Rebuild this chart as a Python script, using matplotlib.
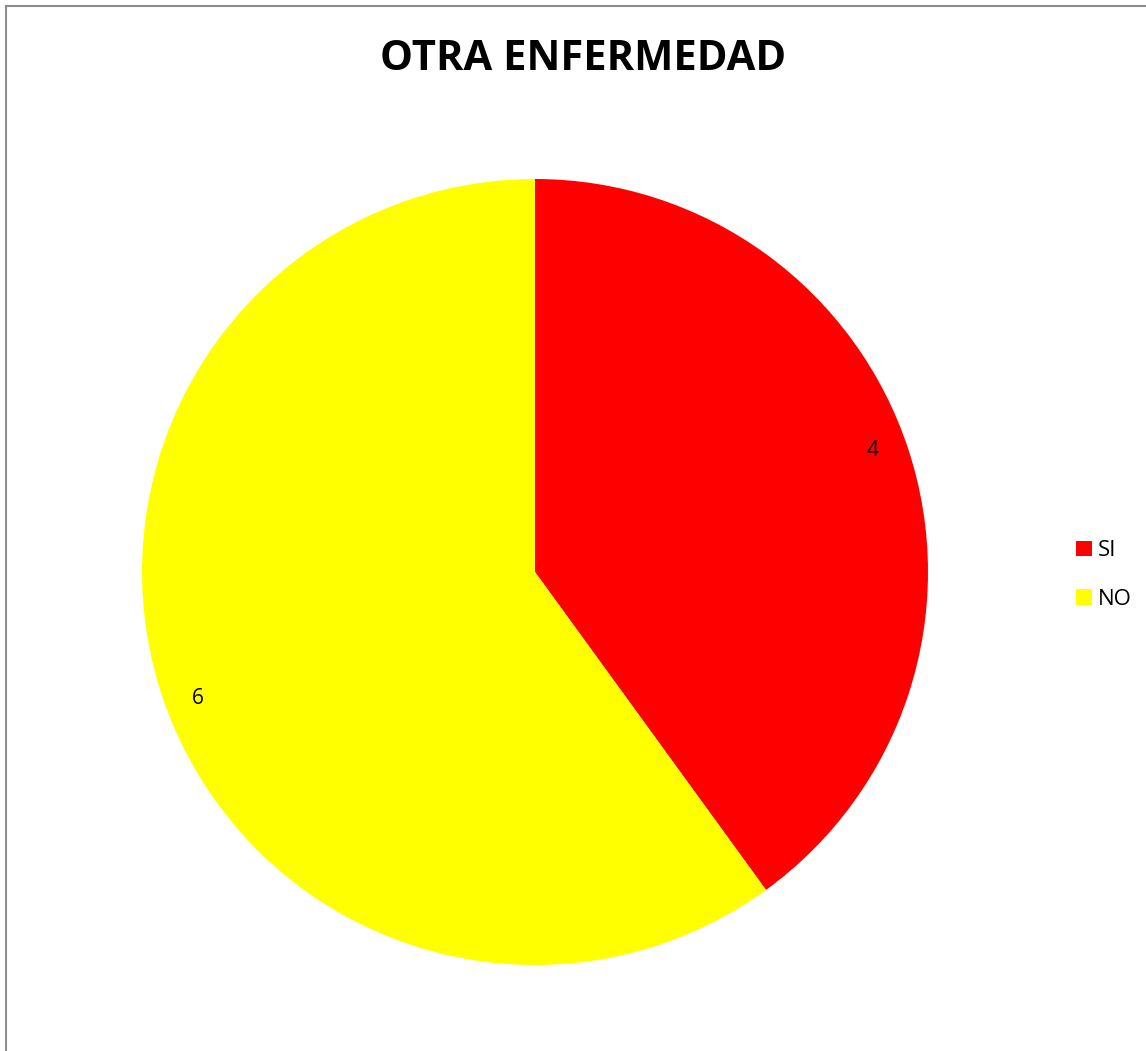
import numpy as np
import matplotlib.pyplot as plt
from matplotlib.patches import Rectangle

# data
categories = ['SI', 'NO']
values = [4, 6]
colors = ['#FF0000', '#FFFF00']

W, H = 1146, 1051
fig = plt.figure(figsize=(W / 100, H / 100), dpi=100)
plt.rcParams['font.family'] = ['Open Sans', 'DejaVu Sans']

# chart border (only top/left visible in the crop)
fig.patches.append(Rectangle((6 / W, -0.05), 1.2, 1 - 6 / H + 0.05,
                             transform=fig.transFigure, fill=False,
                             edgecolor='#8c8c8c', linewidth=1.5))

# pie: centre (535, 572) px, radius 393 px
cx, cy, r = 535, 572, 393
ax = fig.add_axes([(cx - r) / W, (H - cy - r) / H, 2 * r / W, 2 * r / H])
total = sum(values)
wedges, texts, autotexts = ax.pie(
    values, colors=colors, startangle=90, counterclock=False,
    autopct=lambda p: f'{round(p * total / 100)}', pctdistance=0.915,
    textprops={'fontsize': 15, 'color': 'black'})
# excel puts the value labels a touch counter-clockwise of the wedge middle
rot = np.radians(2.2)
for t in autotexts:
    x, y = t.get_position()
    t.set_position((x * np.cos(rot) - y * np.sin(rot),
                    x * np.sin(rot) + y * np.cos(rot)))
    t.set_va('center_baseline')
ax.set_xlim(-1, 1)
ax.set_ylim(-1, 1)
ax.set_aspect('equal')
ax.axis('off')

fig.text(583 / W, 1 - 60 / H, 'OTRA ENFERMEDAD', ha='center', va='center',
         fontsize=30, fontweight='bold')

leg = fig.legend(wedges, categories, loc='center left',
                 bbox_to_anchor=(1056 / W, 1 - 575 / H), frameon=False,
                 fontsize=16, handlelength=0.7, handleheight=0.7,
                 handletextpad=0.3, labelspacing=1.25)

fig.savefig('out.png', dpi=100)
